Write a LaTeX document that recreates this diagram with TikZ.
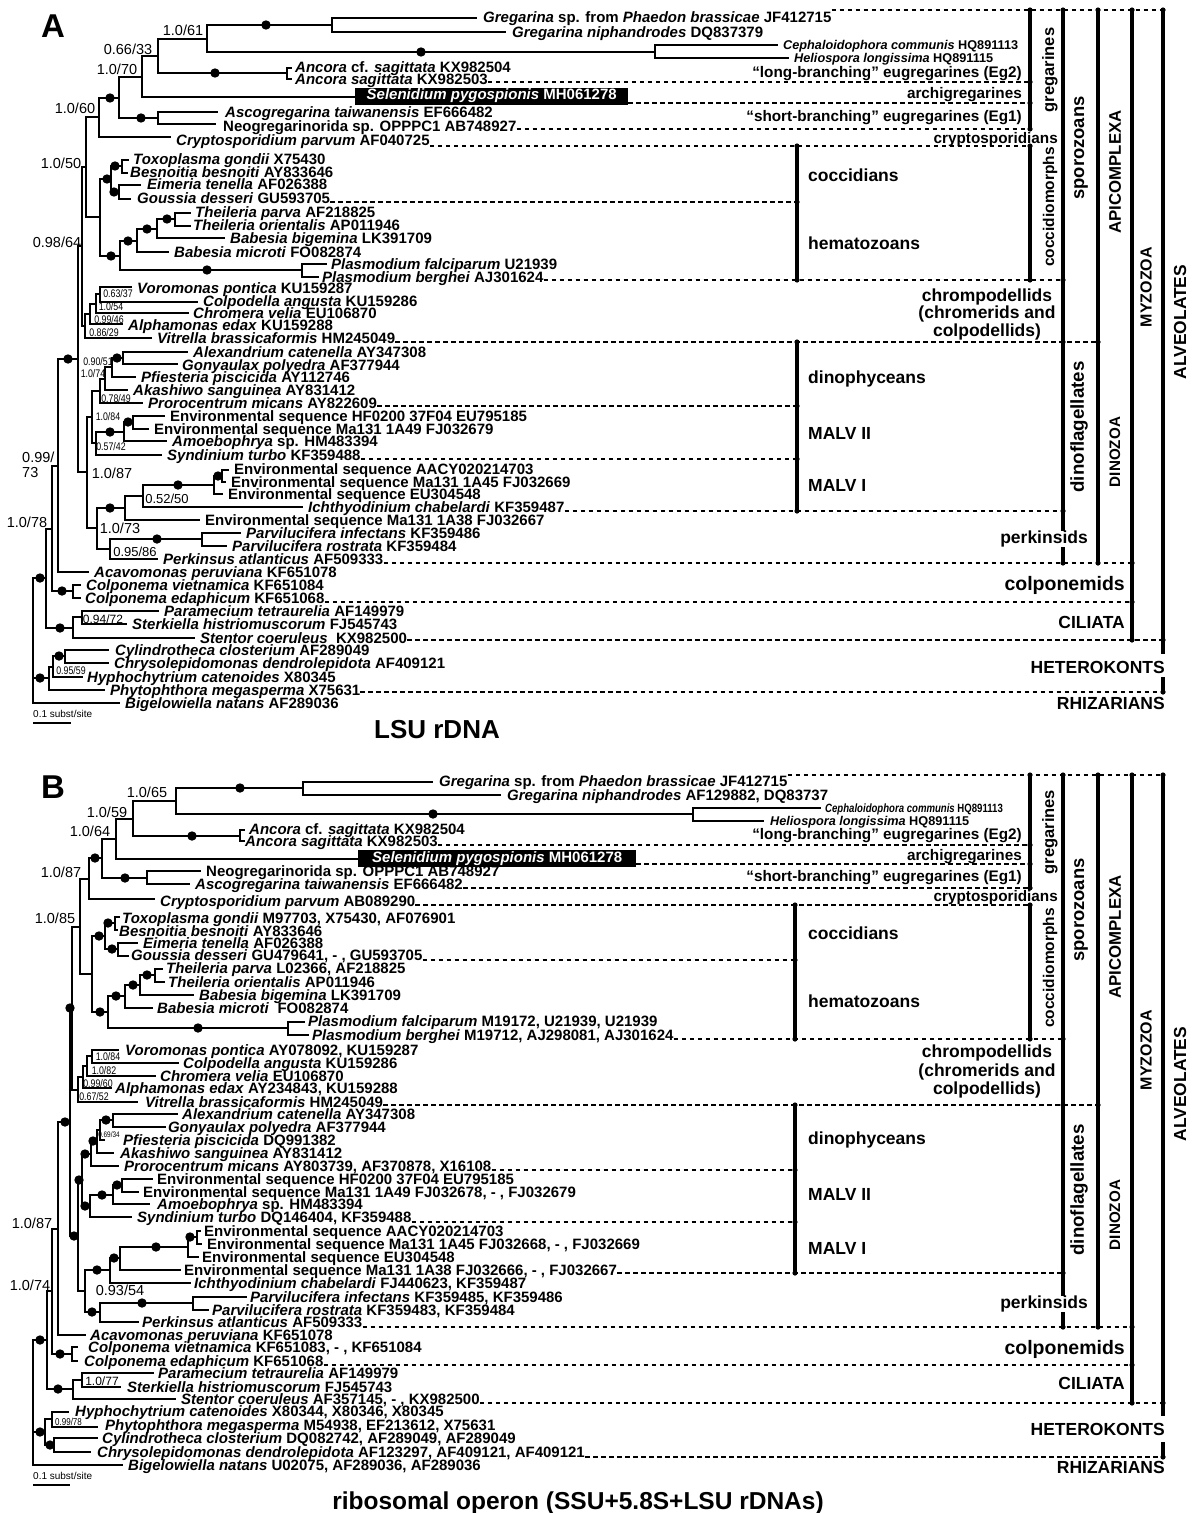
\documentclass[tikz,border=0pt]{standalone}
\usepackage{fontspec}
\setmainfont{Liberation Sans}
\newfontfamily\narf[FakeStretch=0.8]{Liberation Sans}
\newcommand\itx[1]{\textit{#1}}
\newcommand\Xhb[3]{\draw[br] (#1,#3) -- (#2,#3);}
\newcommand\Xvb[3]{\draw[br] (#1,#2) -- (#1,#3);}
\newcommand\Xdt[2]{\fill (#1,#2) circle (4.7pt);}
\newcommand\Xtk[2]{\fill (#1,#2) circle (2.6pt);}
\newcommand\Xlf[4]{\node[lf] (#1) at (#2,#3+5) {#4};}
\newcommand\Xdl[3]{\draw[dsh] (#1.east |- 0,#2) -- (#3,#2);}
\newcommand\Xbk[3]{\draw[bkl] (#1,#2) -- (#1,#3);}
\newcommand\Xsl[4][sup]{\node[#1] at (#2,#3) {#4};}
\begin{document}
\begin{tikzpicture}[x=1pt,y=-1pt,
 br/.style={line width=1.7pt,line cap=rect},
 dsh/.style={line width=1.4pt,dash pattern=on 4.5pt off 3.5pt},
 bkl/.style={line width=3.6pt},
 lf/.style={font=\fontsize{15}{16}\selectfont\bfseries,inner sep=0pt,anchor=base west},
 lfs/.style={font=\fontsize{12.7}{14}\selectfont\bfseries,inner sep=0pt,anchor=base west},
 lfx/.style={font=\narf\fontsize{12}{13}\selectfont\bfseries,inner sep=0pt,anchor=base west},
 selb/.style={fill=black,text=white,font=\fontsize{15}{16}\selectfont\bfseries,inner sep=0pt,minimum height=17pt,anchor=west},
 sup/.style={font=\fontsize{14.5}{16}\selectfont,inner sep=0pt,anchor=base,yshift=-5.2pt},
 supm/.style={font=\fontsize{13}{14}\selectfont,inner sep=0pt,anchor=base,yshift=-4.7pt},
 supq/.style={font=\fontsize{12}{13}\selectfont,inner sep=0pt,anchor=base,yshift=-4.3pt},
 sups/.style={font=\narf\fontsize{11}{12}\selectfont,inner sep=0pt,anchor=base,yshift=-4pt},
 supt/.style={font=\narf\fontsize{8}{9}\selectfont,inner sep=0pt,anchor=base,yshift=-2.9pt},
 gl/.style={font=\fontsize{17.5}{19}\selectfont\bfseries,inner sep=0pt,yshift=-6.3pt},
 gs/.style={font=\fontsize{15.3}{17}\selectfont\bfseries,inner sep=0pt,yshift=-5.5pt},
 vl/.style={rotate=90,inner sep=0pt},
 ttl/.style={font=\fontsize{26}{28}\selectfont\bfseries,inner sep=0pt,anchor=base}
]
\fill[white] (0,0) rectangle (1194,1513);
\path[use as bounding box] (0,0) rectangle (1194,1513);

%%%%%%%%%%%%%%%%%%%%%%%% PANEL A %%%%%%%%%%%%%%%%%%%%%%%%
\node[font=\fontsize{33}{34}\selectfont\bfseries,inner sep=0pt,anchor=base] (pA) at (53,37) {A};

% leaves A
\Xlf{a1}{483}{17}{\itx{Gregarina} sp. from \itx{Phaedon brassicae} JF412715}
\Xlf{a2}{512}{32}{\itx{Gregarina niphandrodes} DQ837379}
\node[lfs] (a3) at (783,45+4.5) {\itx{Cephaloidophora communis} HQ891113};
\node[lfs] (a4) at (794,58+4.5) {\itx{Heliospora longissima} HQ891115};
\Xlf{a5}{295}{67}{\itx{Ancora} cf. \itx{sagittata} KX982504}
\Xlf{a6}{295}{79}{\itx{Ancora sagittata} KX982503}
\node[selb,minimum width=273pt] (a7) at (355,96) {\itx{Selenidium pygospionis} MH061278};
\Xlf{a8}{225}{112}{\itx{Ascogregarina taiwanensis} EF666482}
\Xlf{a9}{223}{126}{Neogregarinorida sp. OPPPC1 AB748927}
\Xlf{a10}{176}{140}{\itx{Cryptosporidium parvum} AF040725}
\Xlf{a11}{133}{159}{\itx{Toxoplasma gondii} X75430}
\Xlf{a12}{130}{172}{\itx{Besnoitia besnoiti} AY833646}
\Xlf{a13}{147}{184}{\itx{Eimeria tenella} AF026388}
\Xlf{a14}{137}{198}{\itx{Goussia desseri} GU593705}
\Xlf{a15}{195}{212}{\itx{Theileria parva} AF218825}
\Xlf{a16}{193}{225}{\itx{Theileria orientalis} AP011946}
\Xlf{a17}{230}{238}{\itx{Babesia bigemina} LK391709}
\Xlf{a18}{174}{252}{\itx{Babesia microti} FO082874}
\Xlf{a19}{331}{264}{\itx{Plasmodium falciparum} U21939}
\Xlf{a20}{322}{277}{\itx{Plasmodium berghei} AJ301624}
\Xlf{a21}{137}{288}{\itx{Voromonas pontica} KU159287}
\Xlf{a22}{203}{301}{\itx{Colpodella angusta} KU159286}
\Xlf{a23}{193}{313}{\itx{Chromera velia} EU106870}
\Xlf{a24}{128}{325}{\itx{Alphamonas edax} KU159288}
\Xlf{a25}{157}{338}{\itx{Vitrella brassicaformis} HM245049}
\Xlf{a26}{193}{352}{\itx{Alexandrium catenella} AY347308}
\Xlf{a27}{182}{365}{\itx{Gonyaulax polyedra} AF377944}
\Xlf{a28}{141}{377}{\itx{Pfiesteria piscicida} AY112746}
\Xlf{a29}{133}{390}{\itx{Akashiwo sanguinea} AY831412}
\Xlf{a30}{148}{403}{\itx{Prorocentrum micans} AY822609}
\Xlf{a31}{170}{416}{Environmental sequence HF0200 37F04 EU795185}
\Xlf{a32}{154}{429}{Environmental sequence Ma131 1A49 FJ032679}
\Xlf{a33}{172}{441}{\itx{Amoebophrya} sp. HM483394}
\Xlf{a34}{167}{455}{\itx{Syndinium turbo} KF359488}
\Xlf{a35}{234}{469}{Environmental sequence AACY020214703}
\Xlf{a36}{231}{482}{Environmental sequence Ma131 1A45 FJ032669}
\Xlf{a37}{228}{494}{Environmental sequence EU304548}
\Xlf{a38}{308}{507}{\itx{Ichthyodinium chabelardi} KF359487}
\Xlf{a39}{205}{520}{Environmental sequence Ma131 1A38 FJ032667}
\Xlf{a40}{246}{533}{\itx{Parvilucifera infectans} KF359486}
\Xlf{a41}{232}{546}{\itx{Parvilucifera rostrata} KF359484}
\Xlf{a42}{163}{559}{\itx{Perkinsus atlanticus} AF509333}
\Xlf{a43}{94}{572}{\itx{Acavomonas peruviana} KF651078}
\Xlf{a44}{86}{585}{\itx{Colponema vietnamica} KF651084}
\Xlf{a45}{85}{598}{\itx{Colponema edaphicum} KF651068}
\Xlf{a46}{164}{611}{\itx{Paramecium tetraurelia} AF149979}
\Xlf{a47}{132}{624}{\itx{Sterkiella histriomuscorum} FJ545743}
\Xlf{a48}{200}{638}{\itx{Stentor coeruleus}\ \ KX982500}
\Xlf{a49}{115}{650}{\itx{Cylindrotheca closterium} AF289049}
\Xlf{a50}{114}{663}{\itx{Chrysolepidomonas dendrolepidota} AF409121}
\Xlf{a51}{87}{677}{\itx{Hyphochytrium catenoides} X80345}
\Xlf{a52}{110}{690}{\itx{Phytophthora megasperma} X75631}
\Xlf{a53}{125}{703}{\itx{Bigelowiella natans} AF289036}

% tree A: gregarines
\Xhb{332}{476}{18} \Xhb{332}{505}{32} \Xvb{332}{18}{32}
\Xhb{207}{332}{25} \Xdt{266}{25}
\Xhb{655}{777}{45} \Xhb{655}{788}{58} \Xvb{655}{45}{58}
\Xhb{207}{655}{52} \Xdt{421}{52}
\Xvb{207}{25}{52} \Xhb{158}{207}{39}
\Xvb{287}{68}{79} \Xhb{287}{291}{68} \Xhb{287}{291}{79}
\Xhb{158}{287}{73} \Xdt{215}{73}
\Xvb{158}{39}{73} \Xhb{142}{158}{56}
\Xhb{142}{355}{97} \Xvb{142}{56}{97} \Xhb{119}{142}{77}
\Xhb{158}{217}{112} \Xhb{158}{215}{124} \Xvb{158}{112}{124}
\Xhb{119}{158}{118} \Xdt{141}{118}
\Xvb{119}{77}{118} \Xhb{99}{119}{98} \Xdt{110}{98}
\Xhb{99}{170}{137} \Xvb{99}{98}{137} \Xhb{86}{99}{117}
% coccidiomorphs
\Xvb{122}{160}{173} \Xhb{122}{128}{160} \Xhb{122}{127}{173}
\Xvb{119}{185}{199} \Xhb{119}{140}{185} \Xhb{119}{130}{199}
\Xhb{111}{122}{166} \Xdt{115}{166}
\Xhb{111}{119}{192} \Xdt{114}{192}
\Xvb{111}{166}{192}
\Xvb{175}{213}{226} \Xhb{175}{190}{213} \Xhb{175}{190}{226}
\Xhb{157}{175}{219} \Xdt{167}{219}
\Xvb{157}{219}{238} \Xhb{157}{224}{238}
\Xhb{137}{157}{229} \Xdt{147}{229}
\Xvb{137}{229}{252} \Xhb{137}{168}{252}
\Xvb{302}{264}{277} \Xhb{302}{326}{264} \Xhb{302}{318}{277}
\Xhb{120}{137}{241} \Xdt{128}{241}
\Xhb{120}{302}{270} \Xdt{207}{270}
\Xvb{120}{241}{270}
\Xhb{100}{111}{179} \Xdt{107}{179}
\Xhb{100}{120}{256} \Xdt{111}{256}
\Xvb{100}{179}{256} \Xhb{86}{100}{217}
\Xvb{86}{117}{217} \Xhb{82}{86}{167}
% chromerids
\Xvb{100}{287}{302} \Xhb{100}{131}{287} \Xhb{100}{197}{302}
\Xhb{96}{100}{294} \Xvb{96}{294}{313} \Xhb{96}{188}{313}
\Xhb{90}{96}{304} \Xvb{90}{304}{324} \Xhb{90}{122}{324}
\Xhb{85}{90}{314} \Xvb{85}{314}{338} \Xhb{85}{151}{338}
\Xhb{82}{85}{326} \Xvb{82}{167}{326} \Xhb{78}{82}{246}
% dinozoa
\Xvb{123}{352}{364} \Xhb{123}{187}{352} \Xhb{123}{177}{364}
\Xhb{112}{123}{358} \Xdt{117}{358}
\Xvb{112}{358}{377} \Xhb{112}{135}{377}
\Xhb{105}{112}{367} \Xvb{105}{367}{390} \Xhb{105}{127}{390}
\Xhb{100}{105}{379} \Xvb{100}{379}{403} \Xhb{100}{142}{403}
\Xvb{133}{416}{429} \Xhb{133}{164}{416} \Xhb{133}{148}{429}
\Xhb{124}{133}{422} \Xdt{128}{422}
\Xvb{124}{422}{441} \Xhb{124}{166}{441}
\Xhb{96}{124}{432} \Xdt{110}{432}
\Xvb{96}{432}{455} \Xhb{96}{161}{455}
\Xhb{92}{100}{391} \Xhb{92}{96}{443} \Xvb{92}{391}{443}
\Xvb{222}{470}{482} \Xhb{222}{228}{470} \Xhb{222}{225}{482}
\Xhb{214}{222}{476} \Xdt{218}{476}
\Xvb{214}{476}{494} \Xhb{214}{222}{494}
\Xhb{143}{214}{485} \Xdt{178}{485}
\Xvb{143}{485}{507} \Xhb{143}{302}{507}
\Xhb{125}{143}{496} \Xvb{125}{496}{520} \Xhb{125}{199}{520}
\Xvb{202}{533}{546} \Xhb{202}{240}{533} \Xhb{202}{226}{546}
\Xhb{110}{202}{539} \Xdt{157}{539}
\Xvb{110}{539}{559} \Xhb{110}{157}{559}
\Xhb{97}{125}{508} \Xdt{110}{508}
\Xhb{97}{110}{549} \Xvb{97}{508}{549}
\Xhb{87}{92}{417} \Xhb{87}{97}{528} \Xvb{87}{417}{528}
\Xhb{78}{87}{472} \Xvb{78}{246}{472}
\Xhb{58}{78}{359} \Xdt{68}{359}
\Xhb{58}{88}{572} \Xvb{58}{359}{572} \Xhb{52}{58}{466}
\Xvb{73}{585}{598} \Xhb{73}{80}{585} \Xhb{73}{80}{598}
\Xhb{52}{73}{591} \Xdt{62}{591}
\Xvb{52}{466}{591} \Xhb{46}{52}{529}
\Xvb{82}{611}{624} \Xhb{82}{158}{611} \Xhb{82}{126}{624}
\Xhb{73}{82}{617} \Xvb{73}{617}{638} \Xhb{73}{194}{638}
\Xhb{46}{73}{628} \Xdt{60}{628}
\Xvb{46}{529}{628} \Xhb{33}{46}{578} \Xdt{40}{578}
\Xvb{65}{650}{663} \Xhb{65}{108}{650} \Xhb{65}{108}{663}
\Xhb{53}{65}{656} \Xdt{59}{656}
\Xvb{53}{656}{677} \Xhb{53}{82}{677}
\Xhb{49}{53}{667} \Xvb{49}{667}{690} \Xhb{49}{104}{690}
\Xhb{33}{49}{678} \Xdt{40}{678}
\Xhb{33}{119}{703} \Xvb{33}{578}{703}

% support values A
\Xsl{183}{30}{1.0/61}
\Xsl{128}{49}{0.66/33}
\Xsl{117}{69}{1.0/70}
\Xsl{75}{108}{1.0/60}
\Xsl{61}{163}{1.0/50}
\Xsl{57}{242}{0.98/64}
\node[sup,anchor=base west] at (22,457) {0.99/};
\node[sup,anchor=base west] at (22,472) {73};
\Xsl{112}{473}{1.0/87}
\Xsl{27}{522}{1.0/78}
\Xsl[supm]{167}{499}{0.52/50}
\Xsl{120}{528}{1.0/73}
\Xsl[supm]{135}{552}{0.95/86}
\Xsl[supq]{103}{619}{0.94/72}
\Xsl[sups]{118}{293}{0.63/37}
\Xsl[sups]{111}{306}{1.0/54}
\Xsl[sups]{109}{319}{0.99/46}
\Xsl[sups]{104}{332}{0.86/29}
\Xsl[sups]{98}{361}{0.90/51}
\Xsl[sups]{93}{373}{1.0/74}
\Xsl[sups]{116}{398}{0.78/49}
\Xsl[sups]{108}{416}{1.0/84}
\Xsl[sups]{111}{446}{0.57/42}
\Xsl[sups]{71}{670}{0.95/59}

% scale and title A
\node[font=\fontsize{10}{11}\selectfont,inner sep=0pt,anchor=base west] (sA) at (33,717) {0.1 subst/site};
\draw[line width=1.8pt] (33,723) -- (71,723);
\node[ttl] (tA) at (437,738) {LSU rDNA};

% dashed A
\Xdl{a1}{10}{1163}
\Xdl{a6}{82}{1030}
\Xdl{a7}{103}{1030}
\Xdl{a9}{129}{1030}
\Xdl{a10}{146}{1030}
\Xdl{a14}{202}{797}
\Xdl{a20}{280}{1063}
\Xdl{a25}{342}{1098}
\Xdl{a30}{406}{797}
\Xdl{a34}{459}{797}
\Xdl{a38}{511}{1063}
\Xdl{a42}{563}{1132}
\Xdl{a45}{602}{1132}
\Xdl{a48}{640}{1163}
\Xdl{a52}{692}{1163}
% brackets A
\Xbk{797}{146}{280} \Xtk{797}{146} \Xtk{797}{202} \Xtk{797}{280}
\Xbk{797}{342}{511} \Xtk{797}{342} \Xtk{797}{406} \Xtk{797}{459} \Xtk{797}{511}
\Xbk{1030}{10}{129} \Xtk{1030}{10} \Xtk{1030}{82} \Xtk{1030}{103} \Xtk{1030}{129}
\Xbk{1030}{146}{280} \Xtk{1030}{146} \Xtk{1030}{280}
\Xbk{1063}{10}{563} \Xtk{1063}{10} \Xtk{1063}{280} \Xtk{1063}{342} \Xtk{1063}{511} \Xtk{1063}{563}
\Xbk{1098}{10}{563} \Xtk{1098}{10} \Xtk{1098}{342} \Xtk{1098}{563}
\Xbk{1132}{10}{640} \Xtk{1132}{10} \Xtk{1132}{563} \Xtk{1132}{602} \Xtk{1132}{640}
\Xbk{1163}{10}{654} \Xbk{1163}{677}{692} \Xtk{1163}{10} \Xtk{1163}{640} \Xtk{1163}{692}
% group labels A
\node[gs,anchor=base east] at (1022,72) {“long-branching” eugregarines (Eg2)};
\node[gs,anchor=base east] at (1022,93) {archigregarines};
\node[gs,anchor=base east] at (1022,116) {“short-branching” eugregarines (Eg1)};
\node[gs,anchor=base east] at (1058,138) {cryptosporidians};
\node[gl,anchor=base west] at (808,175) {coccidians};
\node[gl,anchor=base west] at (808,243) {hematozoans};
\node[gl,anchor=base] at (987,295) {chrompodellids};
\node[gl,anchor=base] at (987,312) {(chromerids and};
\node[gl,anchor=base] at (987,330) {colpodellids)};
\node[gl,anchor=base west] at (808,377) {dinophyceans};
\node[gl,anchor=base west] at (808,433) {MALV II};
\node[gl,anchor=base west] at (808,485) {MALV I};
\node[gl,anchor=base east,fill=white,inner xsep=1pt] at (1089,537) {perkinsids};
\node[gl,anchor=base east,font=\fontsize{19.5}{21}\selectfont\bfseries,yshift=-0.7pt] at (1125,583) {colponemids};
\node[gl,anchor=base east] at (1125,622) {CILIATA};
\node[gl,anchor=base east] at (1165,667) {HETEROKONTS};
\node[gl,anchor=base east] at (1165,703) {RHIZARIANS};
\node[vl,font=\fontsize{16.5}{18}\selectfont\bfseries] at (1050,70) {gregarines};
\node[vl,font=\fontsize{15.5}{17}\selectfont\bfseries] at (1050,207) {coccidiomorphs};
\node[vl,font=\fontsize{18.4}{20}\selectfont\bfseries] at (1081,148) {sporozoans};
\node[vl,font=\fontsize{18.7}{20}\selectfont\bfseries] at (1079,427) {dinoflagellates};
\node[vl,font=\fontsize{16.8}{18}\selectfont\bfseries] at (1115,172) {APICOMPLEXA};
\node[vl,font=\fontsize{15.2}{17}\selectfont\bfseries] at (1115,452) {DINOZOA};
\node[vl,font=\fontsize{16}{18}\selectfont\bfseries] at (1146,287) {MYZOZOA};
\node[vl,font=\fontsize{17.4}{19}\selectfont\bfseries] at (1180,322) {ALVEOLATES};

%%%%%%%%%%%%%%%%%%%%%%%% PANEL B %%%%%%%%%%%%%%%%%%%%%%%%
\node[font=\fontsize{33}{34}\selectfont\bfseries,inner sep=0pt,anchor=base] (pB) at (53,798) {B};

\Xlf{b1}{439}{781}{\itx{Gregarina} sp. from \itx{Phaedon brassicae} JF412715}
\Xlf{b2}{507}{795}{\itx{Gregarina niphandrodes} AF129882, DQ83737}
\node[lfx] (b3) at (825,808+4.3) {\itx{Cephaloidophora communis} HQ891113};
\node[lfs] (b4) at (770,821+4.5) {\itx{Heliospora longissima} HQ891115};
\Xlf{b5}{249}{829}{\itx{Ancora} cf. \itx{sagittata} KX982504}
\Xlf{b6}{245}{841}{\itx{Ancora sagittata} KX982503}
\node[selb,minimum width=278pt] (b7) at (358,858.5) {\itx{Selenidium pygospionis} MH061278};
\Xlf{b8}{206}{871}{Neogregarinorida sp. OPPPC1 AB748927}
\Xlf{b9}{195}{884}{\itx{Ascogregarina taiwanensis} EF666482}
\Xlf{b10}{160}{901}{\itx{Cryptosporidium parvum} AB089290}
\Xlf{b11}{122}{918}{\itx{Toxoplasma gondii} M97703, X75430, AF076901}
\Xlf{b12}{119}{931}{\itx{Besnoitia besnoiti} AY833646}
\Xlf{b13}{143}{943}{\itx{Eimeria tenella} AF026388}
\Xlf{b14}{131}{955}{\itx{Goussia desseri} GU479641, - , GU593705}
\Xlf{b15}{166}{968}{\itx{Theileria parva} L02366, AF218825}
\Xlf{b16}{168}{982}{\itx{Theileria orientalis} AP011946}
\Xlf{b17}{199}{995}{\itx{Babesia bigemina} LK391709}
\Xlf{b18}{157}{1008}{\itx{Babesia microti}\ \ FO082874}
\Xlf{b19}{308}{1021}{\itx{Plasmodium falciparum} M19172, U21939, U21939}
\Xlf{b20}{312}{1035}{\itx{Plasmodium berghei} M19712, AJ298081, AJ301624}
\Xlf{b21}{125}{1050}{\itx{Voromonas pontica} AY078092, KU159287}
\Xlf{b22}{183}{1063}{\itx{Colpodella angusta} KU159286}
\Xlf{b23}{160}{1076}{\itx{Chromera velia} EU106870}
\Xlf{b24}{115}{1088}{\itx{Alphamonas edax} AY234843, KU159288}
\Xlf{b25}{145}{1102}{\itx{Vitrella brassicaformis} HM245049}
\Xlf{b26}{182}{1114}{\itx{Alexandrium catenella} AY347308}
\Xlf{b27}{168}{1127}{\itx{Gonyaulax polyedra} AF377944}
\Xlf{b28}{123}{1140}{\itx{Pfiesteria piscicida} DQ991382}
\Xlf{b29}{120}{1153}{\itx{Akashiwo sanguinea} AY831412}
\Xlf{b30}{124}{1166}{\itx{Prorocentrum micans} AY803739, AF370878, X16108}
\Xlf{b31}{157}{1179}{Environmental sequence HF0200 37F04 EU795185}
\Xlf{b32}{143}{1192}{Environmental sequence Ma131 1A49 FJ032678, - , FJ032679}
\Xlf{b33}{157}{1204}{\itx{Amoebophrya} sp. HM483394}
\Xlf{b34}{137}{1217}{\itx{Syndinium turbo} DQ146404, KF359488}
\Xlf{b35}{204}{1231}{Environmental sequence AACY020214703}
\Xlf{b36}{207}{1244}{Environmental sequence Ma131 1A45 FJ032668, - , FJ032669}
\Xlf{b37}{202}{1257}{Environmental sequence EU304548}
\Xlf{b38}{184}{1270}{Environmental sequence Ma131 1A38 FJ032666, - , FJ032667}
\Xlf{b39}{194}{1283}{\itx{Ichthyodinium chabelardi} FJ440623, KF359487}
\Xlf{b40}{250}{1297}{\itx{Parvilucifera infectans} KF359485, KF359486}
\Xlf{b41}{212}{1310}{\itx{Parvilucifera rostrata} KF359483, KF359484}
\Xlf{b42}{142}{1322}{\itx{Perkinsus atlanticus} AF509333}
\Xlf{b43}{90}{1335}{\itx{Acavomonas peruviana} KF651078}
\Xlf{b44}{88}{1347}{\itx{Colponema vietnamica} KF651083, - , KF651084}
\Xlf{b45}{84}{1361}{\itx{Colponema edaphicum} KF651068}
\Xlf{b46}{158}{1373}{\itx{Paramecium tetraurelia} AF149979}
\Xlf{b47}{127}{1387}{\itx{Sterkiella histriomuscorum} FJ545743}
\Xlf{b48}{181}{1399}{\itx{Stentor coeruleus} AF357145, - , KX982500}
\Xlf{b49}{75}{1411}{\itx{Hyphochytrium catenoides} X80344, X80346, X80345}
\Xlf{b50}{105}{1425}{\itx{Phytophthora megasperma} M54938, EF213612, X75631}
\Xlf{b51}{102}{1438}{\itx{Cylindrotheca closterium} DQ082742, AF289049, AF289049}
\Xlf{b52}{97}{1452}{\itx{Chrysolepidomonas dendrolepidota} AF123297, AF409121, AF409121}
\Xlf{b53}{128}{1465}{\itx{Bigelowiella natans} U02075, AF289036, AF289036}

% tree B: gregarines
\Xhb{303}{432}{782} \Xhb{303}{500}{795} \Xvb{303}{782}{795}
\Xhb{176}{303}{788} \Xdt{240}{788}
\Xhb{693}{820}{808} \Xhb{693}{763}{821} \Xvb{693}{808}{821}
\Xhb{176}{693}{814} \Xdt{433}{814}
\Xvb{176}{788}{814} \Xhb{133}{176}{801}
\Xvb{240}{830}{841} \Xhb{240}{244}{830} \Xhb{240}{244}{841}
\Xhb{133}{240}{836} \Xdt{192}{836}
\Xvb{133}{801}{836} \Xhb{116}{133}{819}
\Xhb{116}{358}{859} \Xvb{116}{819}{859} \Xhb{102}{116}{839}
\Xvb{147}{871}{884} \Xhb{147}{200}{871} \Xhb{147}{189}{884}
\Xhb{102}{147}{878} \Xdt{125}{878}
\Xvb{102}{839}{878} \Xhb{89}{102}{858} \Xdt{95}{858}
\Xhb{89}{154}{899} \Xvb{89}{858}{899} \Xhb{80}{89}{879}
% coccidiomorphs B
\Xvb{115}{917}{930} \Xhb{115}{119}{917} \Xhb{115}{117}{930}
\Xhb{105}{115}{923} \Xdt{108}{923}
\Xvb{118}{943}{956} \Xhb{118}{137}{943} \Xhb{118}{128}{956}
\Xhb{105}{118}{949} \Xdt{112}{949}
\Xvb{105}{923}{949} \Xhb{92}{105}{936} \Xdt{99}{936}
\Xvb{155}{969}{982} \Xhb{155}{162}{969} \Xhb{155}{164}{982}
\Xhb{140}{155}{975} \Xdt{147}{975}
\Xvb{140}{975}{995} \Xhb{140}{193}{995}
\Xhb{125}{140}{985} \Xdt{133}{985}
\Xvb{125}{985}{1008} \Xhb{125}{152}{1008}
\Xvb{288}{1022}{1035} \Xhb{288}{304}{1022} \Xhb{288}{308}{1035}
\Xhb{108}{125}{996} \Xdt{116}{996}
\Xhb{108}{288}{1028} \Xdt{198}{1028}
\Xvb{108}{996}{1028} \Xhb{92}{108}{1012} \Xdt{100}{1012}
\Xvb{92}{936}{1012} \Xhb{80}{92}{974}
\Xvb{80}{879}{974} \Xhb{72}{80}{927}
% chromerids B
\Xvb{92}{1050}{1063} \Xhb{92}{118}{1050} \Xhb{92}{178}{1063}
\Xhb{87}{92}{1056} \Xvb{87}{1056}{1076} \Xhb{87}{155}{1076}
\Xhb{83}{87}{1066} \Xvb{83}{1066}{1088} \Xhb{83}{111}{1088}
\Xhb{78}{83}{1077} \Xvb{78}{1077}{1102} \Xhb{78}{137}{1102}
\Xhb{72}{78}{1090} \Xvb{72}{927}{1090}
\Xhb{68}{72}{1008} \Xdt{70}{1008}
% dinophyceans B
\Xvb{113}{1114}{1127} \Xhb{113}{177}{1114} \Xhb{113}{165}{1127}
\Xhb{100}{113}{1120} \Xdt{106}{1120}
\Xvb{100}{1120}{1140} \Xhb{100}{104}{1140}
\Xhb{97}{100}{1130} \Xvb{97}{1130}{1153} \Xhb{97}{113}{1153}
\Xhb{91}{97}{1141} \Xdt{93}{1141}
\Xvb{91}{1141}{1166} \Xhb{91}{118}{1166}
\Xhb{82}{91}{1154} \Xdt{85}{1154}
\Xvb{122}{1179}{1192} \Xhb{122}{152}{1179} \Xhb{122}{138}{1192}
\Xhb{113}{122}{1185} \Xdt{117}{1185}
\Xvb{113}{1185}{1204} \Xhb{113}{149}{1204}
\Xhb{90}{113}{1195} \Xdt{102}{1195}
\Xvb{90}{1195}{1217} \Xhb{90}{131}{1217}
\Xhb{82}{90}{1206} \Xdt{85}{1206}
\Xvb{82}{1154}{1206} \Xhb{78}{82}{1180} \Xdt{79}{1180}
\Xvb{197}{1231}{1244} \Xhb{197}{200}{1231} \Xhb{197}{201}{1244}
\Xhb{188}{197}{1237} \Xdt{190}{1237}
\Xvb{188}{1237}{1257} \Xhb{188}{198}{1257}
\Xhb{120}{188}{1247} \Xdt{156}{1247}
\Xvb{120}{1247}{1270} \Xhb{120}{180}{1270}
\Xhb{110}{120}{1258} \Xdt{114}{1258}
\Xvb{110}{1258}{1283} \Xhb{110}{190}{1283}
\Xhb{85}{110}{1270} \Xdt{97}{1270}
\Xvb{193}{1297}{1310} \Xhb{193}{246}{1297} \Xhb{193}{208}{1310}
\Xhb{100}{193}{1303} \Xdt{142}{1303}
\Xvb{100}{1303}{1322} \Xhb{100}{138}{1322}
\Xhb{85}{100}{1312} \Xdt{92}{1312}
\Xvb{85}{1270}{1312} \Xhb{78}{85}{1291}
\Xvb{78}{1180}{1291} \Xhb{70}{78}{1236} \Xdt{74}{1236}
\Xvb{70}{1008}{1236} \Xhb{58}{70}{1122} \Xdt{65}{1122}
\Xhb{58}{85}{1335} \Xvb{58}{1122}{1335} \Xhb{52}{58}{1229}
\Xvb{72}{1347}{1361} \Xhb{72}{77}{1347} \Xhb{72}{77}{1361}
\Xhb{52}{72}{1354} \Xdt{60}{1354}
\Xvb{52}{1229}{1354} \Xhb{47}{52}{1291}
\Xvb{82}{1373}{1387} \Xhb{82}{153}{1373} \Xhb{82}{120}{1387}
\Xhb{73}{82}{1380} \Xvb{73}{1380}{1399} \Xhb{73}{175}{1399}
\Xhb{47}{73}{1389} \Xdt{58}{1389}
\Xvb{47}{1291}{1389} \Xhb{33}{47}{1340} \Xdt{40}{1340}
\Xvb{52}{1412}{1427} \Xhb{52}{68}{1412} \Xhb{52}{97}{1427}
\Xvb{54}{1438}{1452} \Xhb{54}{97}{1438} \Xhb{54}{90}{1452}
\Xhb{45}{52}{1419} \Xhb{45}{54}{1445} \Xdt{50}{1445}
\Xvb{45}{1419}{1445} \Xhb{33}{45}{1432} \Xdt{40}{1432}
\Xhb{33}{122}{1465} \Xvb{33}{1340}{1465}

% support values B
\Xsl{147}{792}{1.0/65}
\Xsl{107}{812}{1.0/59}
\Xsl{90}{831}{1.0/64}
\Xsl{61}{872}{1.0/87}
\Xsl{55}{918}{1.0/85}
\Xsl[sups]{108}{1056}{1.0/84}
\Xsl[sups]{104}{1070}{1.0/82}
\Xsl[sups]{98}{1083}{0.99/60}
\Xsl[sups]{94}{1096}{0.67/52}
\Xsl[supt]{109}{1135}{0.69/34}
\Xsl{32}{1223}{1.0/87}
\Xsl{30}{1285}{1.0/74}
\Xsl{120}{1290}{0.93/54}
\Xsl[supq]{102}{1381}{1.0/77}
\node[font=\narf\fontsize{10}{11}\selectfont,inner sep=0pt,anchor=base west] at (55,1425.5) {0.99/78};

% scale and title B
\node[font=\fontsize{10}{11}\selectfont,inner sep=0pt,anchor=base west] (sB) at (33,1479) {0.1 subst/site};
\draw[line width=1.8pt] (33,1485) -- (70,1485);
\node[ttl,font=\fontsize{24.5}{26}\selectfont\bfseries] (tB) at (578,1509) {ribosomal operon (SSU+5.8S+LSU rDNAs)};

% dashed B
\Xdl{b1}{775}{1163}
\Xdl{b6}{845}{1030}
\Xdl{b7}{864}{1030}
\Xdl{b9}{888}{1030}
\Xdl{b10}{905}{1030}
\Xdl{b14}{960}{795}
\Xdl{b20}{1039}{1063}
\Xdl{b25}{1105}{1098}
\Xdl{b30}{1170}{795}
\Xdl{b34}{1222}{795}
\Xdl{b38}{1273}{1063}
\Xdl{b42}{1327}{1132}
\Xdl{b45}{1365}{1132}
\Xdl{b48}{1403}{1163}
\Xdl{b52}{1457}{1163}
% brackets B
\Xbk{795}{905}{1039} \Xtk{795}{905} \Xtk{795}{960} \Xtk{795}{1039}
\Xbk{795}{1105}{1273} \Xtk{795}{1105} \Xtk{795}{1170} \Xtk{795}{1222} \Xtk{795}{1273}
\Xbk{1030}{775}{888} \Xtk{1030}{775} \Xtk{1030}{845} \Xtk{1030}{864} \Xtk{1030}{888}
\Xbk{1030}{905}{1039} \Xtk{1030}{905} \Xtk{1030}{1039}
\Xbk{1063}{775}{1327} \Xtk{1063}{775} \Xtk{1063}{1039} \Xtk{1063}{1105} \Xtk{1063}{1273} \Xtk{1063}{1327}
\Xbk{1098}{775}{1327} \Xtk{1098}{775} \Xtk{1098}{1105} \Xtk{1098}{1327}
\Xbk{1132}{775}{1403} \Xtk{1132}{775} \Xtk{1132}{1327} \Xtk{1132}{1365} \Xtk{1132}{1403}
\Xbk{1163}{775}{1416} \Xbk{1163}{1442}{1457} \Xtk{1163}{775} \Xtk{1163}{1403} \Xtk{1163}{1457}
% group labels B
\node[gs,anchor=base east] at (1022,834) {“long-branching” eugregarines (Eg2)};
\node[gs,anchor=base east] at (1022,855) {archigregarines};
\node[gs,anchor=base east] at (1022,876) {“short-branching” eugregarines (Eg1)};
\node[gs,anchor=base east] at (1058,896) {cryptosporidians};
\node[gl,anchor=base west] at (808,933) {coccidians};
\node[gl,anchor=base west] at (808,1001) {hematozoans};
\node[gl,anchor=base] at (987,1051) {chrompodellids};
\node[gl,anchor=base] at (987,1070) {(chromerids and};
\node[gl,anchor=base] at (987,1088) {colpodellids)};
\node[gl,anchor=base west] at (808,1138) {dinophyceans};
\node[gl,anchor=base west] at (808,1194) {MALV II};
\node[gl,anchor=base west] at (808,1248) {MALV I};
\node[gl,anchor=base east,fill=white,inner xsep=1pt] at (1089,1302) {perkinsids};
\node[gl,anchor=base east,font=\fontsize{19.5}{21}\selectfont\bfseries,yshift=-0.7pt] at (1125,1347) {colponemids};
\node[gl,anchor=base east] at (1125,1383) {CILIATA};
\node[gl,anchor=base east] at (1165,1429) {HETEROKONTS};
\node[gl,anchor=base east] at (1165,1467) {RHIZARIANS};
\node[vl,font=\fontsize{16.5}{18}\selectfont\bfseries] at (1050,832) {gregarines};
\node[vl,font=\fontsize{15.5}{17}\selectfont\bfseries] at (1050,968) {coccidiomorphs};
\node[vl,font=\fontsize{18.4}{20}\selectfont\bfseries] at (1081,910) {sporozoans};
\node[vl,font=\fontsize{18.7}{20}\selectfont\bfseries] at (1079,1190) {dinoflagellates};
\node[vl,font=\fontsize{16.8}{18}\selectfont\bfseries] at (1115,937) {APICOMPLEXA};
\node[vl,font=\fontsize{15.2}{17}\selectfont\bfseries] at (1115,1215) {DINOZOA};
\node[vl,font=\fontsize{16}{18}\selectfont\bfseries] at (1146,1050) {MYZOZOA};
\node[vl,font=\fontsize{17.4}{19}\selectfont\bfseries] at (1180,1084) {ALVEOLATES};
\end{tikzpicture}
\end{document}
